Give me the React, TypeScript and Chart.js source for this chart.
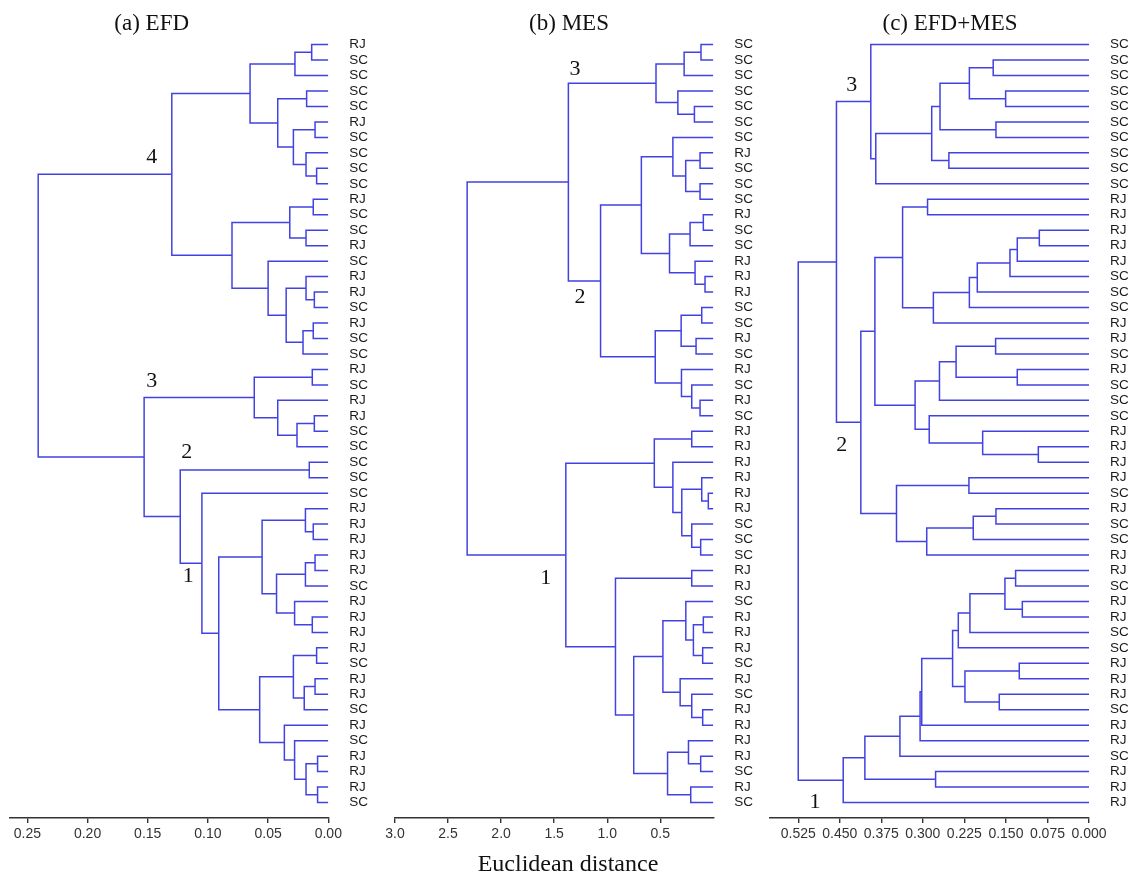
import React, { useEffect, useRef } from 'react';
import { Chart, registerables } from 'chart.js';

Chart.register(...registerables);

// ---------- Panel (a) EFD ----------
const labelsA = [
  'RJ', 'SC', 'SC', 'SC', 'SC', 'RJ', 'SC', 'SC', 'SC', 'SC',
  'RJ', 'SC', 'SC', 'RJ', 'SC', 'RJ', 'RJ', 'SC', 'RJ', 'SC',
  'SC', 'RJ', 'SC', 'RJ', 'RJ', 'SC', 'SC', 'SC', 'SC', 'SC',
  'RJ', 'RJ', 'RJ', 'RJ', 'RJ', 'SC', 'RJ', 'RJ', 'RJ', 'RJ',
  'SC', 'RJ', 'RJ', 'SC', 'RJ', 'SC', 'RJ', 'RJ', 'RJ', 'SC',
];
// merge: [first leaf, last leaf of left child, last leaf, height]
const mergesA: number[][] = [
  [1, 1, 2, 0.0138], [1, 2, 3, 0.0277], [4, 4, 5, 0.018], [6, 6, 7, 0.011],
  [9, 9, 10, 0.0097], [8, 8, 10, 0.0185], [6, 7, 10, 0.029], [4, 5, 10, 0.042],
  [1, 3, 10, 0.065], [11, 11, 12, 0.0125], [13, 13, 14, 0.0185], [11, 12, 14, 0.032],
  [17, 17, 18, 0.0116], [16, 16, 18, 0.0185], [19, 19, 20, 0.0125], [19, 20, 21, 0.021],
  [16, 18, 21, 0.035], [15, 15, 21, 0.05], [11, 14, 21, 0.08], [1, 10, 21, 0.13],
  [22, 22, 23, 0.0133], [25, 25, 26, 0.0116], [25, 26, 27, 0.026], [24, 24, 27, 0.042],
  [22, 23, 27, 0.0615], [28, 28, 29, 0.0158], [32, 32, 33, 0.0125], [31, 31, 33, 0.019],
  [34, 34, 35, 0.011], [34, 35, 36, 0.019], [38, 38, 39, 0.0133], [37, 37, 39, 0.028],
  [34, 36, 39, 0.043], [31, 33, 39, 0.055], [40, 40, 41, 0.0097], [42, 42, 43, 0.011],
  [42, 43, 44, 0.02], [40, 41, 44, 0.029], [47, 47, 48, 0.0089], [49, 49, 50, 0.0089],
  [47, 48, 50, 0.0185], [46, 46, 50, 0.028], [45, 45, 50, 0.0365], [40, 44, 50, 0.057],
  [31, 39, 50, 0.091], [30, 30, 50, 0.105], [28, 29, 50, 0.123], [22, 27, 50, 0.153],
  [1, 21, 50, 0.241],
];
const ticksA = [0.25, 0.2, 0.15, 0.1, 0.05, 0];
const clustersA: [string, number, number][] = [
  ['4', 0.1467, 8.27], ['3', 0.1467, 22.76], ['2', 0.1176, 27.33], ['1', 0.1163, 35.4],
];

// ---------- Panel (b) MES ----------
const labelsB = [
  'SC', 'SC', 'SC', 'SC', 'SC', 'SC', 'SC', 'RJ', 'SC', 'SC',
  'SC', 'RJ', 'SC', 'SC', 'RJ', 'RJ', 'RJ', 'SC', 'SC', 'RJ',
  'SC', 'RJ', 'SC', 'RJ', 'SC', 'RJ', 'RJ', 'RJ', 'RJ', 'RJ',
  'RJ', 'SC', 'SC', 'SC', 'RJ', 'RJ', 'SC', 'RJ', 'RJ', 'RJ',
  'SC', 'RJ', 'SC', 'RJ', 'RJ', 'RJ', 'RJ', 'SC', 'RJ', 'SC',
];
const mergesB: number[][] = [
  [1, 1, 2, 0.116], [1, 2, 3, 0.275], [5, 5, 6, 0.178], [4, 4, 6, 0.334],
  [1, 3, 6, 0.54], [8, 8, 9, 0.125], [10, 10, 11, 0.125], [8, 9, 11, 0.26],
  [7, 7, 11, 0.381], [12, 12, 13, 0.094], [12, 13, 14, 0.219], [16, 16, 17, 0.078],
  [15, 15, 17, 0.172], [12, 14, 17, 0.4125], [7, 11, 17, 0.678], [18, 18, 19, 0.109],
  [20, 20, 21, 0.1625], [18, 19, 21, 0.303], [24, 24, 25, 0.125], [23, 23, 25, 0.203],
  [22, 22, 25, 0.3], [18, 21, 25, 0.547], [7, 17, 25, 1.0625], [1, 6, 25, 1.366],
  [26, 26, 27, 0.203], [30, 30, 31, 0.047], [29, 29, 31, 0.109], [33, 33, 34, 0.119],
  [32, 32, 34, 0.203], [29, 31, 34, 0.297], [28, 28, 34, 0.381], [26, 27, 34, 0.556],
  [35, 35, 36, 0.203], [38, 38, 39, 0.094], [40, 40, 41, 0.1], [38, 39, 41, 0.1875],
  [37, 37, 41, 0.259], [44, 44, 45, 0.1], [43, 43, 45, 0.203], [42, 42, 45, 0.3125],
  [37, 41, 45, 0.475], [47, 47, 48, 0.119], [46, 46, 48, 0.234], [49, 49, 50, 0.2125],
  [46, 48, 50, 0.431], [37, 45, 50, 0.75], [35, 36, 50, 0.922], [26, 34, 50, 1.39],
  [1, 25, 50, 2.32],
];
const ticksB = [3.0, 2.5, 2.0, 1.5, 1.0, 0.5];
const clustersB: [string, number, number][] = [
  ['3', 1.3035, 2.62], ['2', 1.256, 17.31], ['1', 1.58, 35.49],
];

// ---------- Panel (c) EFD+MES ----------
const labelsC = [
  'SC', 'SC', 'SC', 'SC', 'SC', 'SC', 'SC', 'SC', 'SC', 'SC',
  'RJ', 'RJ', 'RJ', 'RJ', 'RJ', 'SC', 'SC', 'SC', 'RJ', 'RJ',
  'SC', 'RJ', 'SC', 'SC', 'SC', 'RJ', 'RJ', 'RJ', 'RJ', 'SC',
  'RJ', 'SC', 'SC', 'RJ', 'RJ', 'SC', 'RJ', 'RJ', 'SC', 'SC',
  'RJ', 'RJ', 'RJ', 'SC', 'RJ', 'RJ', 'SC', 'RJ', 'RJ', 'RJ',
];
const mergesC: number[][] = [
  [2, 2, 3, 0.173], [4, 4, 5, 0.1505], [2, 3, 5, 0.216], [6, 6, 7, 0.168],
  [2, 5, 7, 0.269], [8, 8, 9, 0.253], [2, 7, 9, 0.284], [2, 9, 10, 0.385],
  [1, 1, 10, 0.394], [11, 11, 12, 0.2915], [13, 13, 14, 0.0897], [13, 14, 15, 0.1295],
  [13, 15, 16, 0.1427], [13, 16, 17, 0.2017], [13, 17, 18, 0.216], [13, 18, 19, 0.281],
  [11, 12, 19, 0.3366], [20, 20, 21, 0.1686], [22, 22, 23, 0.1295], [20, 21, 23, 0.24],
  [20, 23, 24, 0.27], [27, 27, 28, 0.0915], [26, 26, 28, 0.192], [25, 25, 28, 0.2885],
  [20, 24, 28, 0.314], [11, 19, 28, 0.3866], [29, 29, 30, 0.2168], [31, 31, 32, 0.168],
  [31, 32, 33, 0.209], [31, 33, 34, 0.293], [29, 30, 34, 0.3476], [11, 28, 34, 0.412],
  [1, 10, 34, 0.456], [35, 35, 36, 0.1325], [37, 37, 38, 0.1204], [35, 36, 38, 0.1518],
  [35, 38, 39, 0.215], [35, 39, 40, 0.236], [41, 41, 42, 0.1259], [43, 43, 44, 0.162],
  [41, 42, 44, 0.224], [35, 40, 44, 0.2463], [35, 44, 45, 0.302], [35, 45, 46, 0.305],
  [35, 46, 47, 0.3414], [48, 48, 49, 0.277], [35, 47, 49, 0.4047], [35, 49, 50, 0.4438],
  [1, 34, 50, 0.525],
];
const ticksC = [0.525, 0.45, 0.375, 0.3, 0.225, 0.15, 0.075, 0];
const clustersC: [string, number, number][] = [
  ['3', 0.4286, 3.63], ['2', 0.4466, 26.9], ['1', 0.4949, 49.95],
];

const LINE = 'rgb(66,66,226)';
const SERIF = '"Liberation Serif", "Times New Roman", serif';
const SANS = '"Liberation Sans", Arial, sans-serif';

function buildSegments(merges: number[][], n: number) {
  const nodes = new Map<string, { h: number; y: number }>();
  for (let i = 1; i <= n; i++) nodes.set(i + '-' + i, { h: 0, y: i });
  const segs: { x: number; y: number }[][] = [];
  for (const [lo, split, hi, h] of merges) {
    const a = nodes.get(lo + '-' + split);
    const b = nodes.get(split + 1 + '-' + hi);
    if (!a || !b) throw new Error('bad merge ' + [lo, split, hi].join(','));
    segs.push([
      { x: a.h, y: a.y },
      { x: h, y: a.y },
      { x: h, y: b.y },
      { x: b.h, y: b.y },
    ]);
    nodes.set(lo + '-' + hi, { h, y: (a.y + b.y) / 2 });
  }
  return segs;
}

type Panel = {
  left: number;
  width: number;
  areaLeft: number;
  areaRight: number;
  labels: string[];
  merges: number[][];
  ticks: number[];
  decimals: number;
  max: number;
  clusters: [string, number, number][];
  title: string;
  titleX: number;
  xTitle?: string;
  xTitleX?: number;
};

const panels: Panel[] = [
  { left: 0, width: 380, areaLeft: 9.3, areaRight: 328.3, labels: labelsA, merges: mergesA, ticks: ticksA, decimals: 2, max: 0.265, clusters: clustersA, title: '(a) EFD', titleX: 151.7 },
  { left: 380, width: 380, areaLeft: 15, areaRight: 333.3, labels: labelsB, merges: mergesB, ticks: ticksB, decimals: 1, max: 3.0, clusters: clustersB, title: '(b) MES', titleX: 189, xTitle: 'Euclidean distance', xTitleX: 188 },
  { left: 760, width: 372, areaLeft: 10, areaRight: 329, labels: labelsC, merges: mergesC, ticks: ticksC, decimals: 3, max: 0.576, clusters: clustersC, title: '(c) EFD+MES', titleX: 190 },
];

const TOP = 28.8;
const BOTTOM = 818;
const H = 877;

function DendroPanel({ p }: { p: Panel }) {
  const ref = useRef<HTMLCanvasElement | null>(null);
  useEffect(() => {
    if (!ref.current) return;
    const n = p.labels.length;
    const segs = buildSegments(p.merges, n);
    const rows = p.labels.map((_, i) => i + 1);
    const textPlugin = {
      id: 'panelText' + p.left,
      afterDraw(chart: any) {
        const { ctx, scales } = chart;
        const xs = scales.x;
        const ys = scales.y;
        ctx.save();
        ctx.fillStyle = '#111';
        ctx.font = '23px ' + SERIF;
        ctx.textAlign = 'center';
        ctx.textBaseline = 'alphabetic';
        ctx.fillText(p.title, p.titleX, 30);
        ctx.textBaseline = 'middle';
        ctx.font = '22px ' + SERIF;
        for (const [t, d, r] of p.clusters) {
          ctx.fillText(t, xs.getPixelForValue(d), ys.getPixelForValue(r));
        }
        if (p.xTitle) {
          ctx.font = '24px ' + SERIF;
          ctx.textBaseline = 'alphabetic';
          ctx.fillText(p.xTitle, p.xTitleX, 871);
        }
        ctx.restore();
      },
    };
    const chart = new Chart(ref.current, {
      type: 'scatter',
      data: {
        datasets: segs.map((s) => ({
          data: s,
          showLine: true,
          borderColor: LINE,
          backgroundColor: LINE,
          borderWidth: 1.5,
          pointRadius: 0,
          pointHoverRadius: 0,
          tension: 0,
          fill: false,
        })),
      },
      options: {
        animation: false,
        responsive: false,
        maintainAspectRatio: false,
        events: [],
        layout: { padding: { left: p.areaLeft, top: TOP, right: 0, bottom: 0 } },
        plugins: { legend: { display: false }, tooltip: { enabled: false }, title: { display: false } },
        scales: {
          x: {
            type: 'linear',
            reverse: true,
            min: 0,
            max: p.max,
            afterFit: (s: any) => {
              s.height = H - BOTTOM;
            },
            afterBuildTicks: (s: any) => {
              s.ticks = p.ticks.map((v) => ({ value: v }));
            },
            grid: { display: true, drawOnChartArea: false, drawTicks: true, tickLength: 5, color: '#333', lineWidth: 1.4 },
            border: { display: true, color: '#333', width: 1.6 },
            ticks: {
              autoSkip: false,
              maxRotation: 0,
              padding: 3,
              color: '#333',
              font: { family: SANS, size: 14 },
              callback: (v: any) => Number(v).toFixed(p.decimals),
            },
          },
          y: {
            type: 'linear',
            position: 'right',
            reverse: true,
            min: 0,
            max: n + 1,
            afterFit: (s: any) => {
              s.width = p.width - p.areaRight;
            },
            afterBuildTicks: (s: any) => {
              s.ticks = rows.map((v) => ({ value: v }));
            },
            grid: { display: false, drawTicks: false },
            border: { display: false },
            ticks: {
              autoSkip: false,
              padding: 21,
              color: '#1a1a1a',
              font: { family: SANS, size: 13.5 },
              callback: (v: any) => p.labels[Math.round(Number(v)) - 1] ?? '',
            },
          },
        },
      },
      plugins: [textPlugin],
    } as any);
    return () => chart.destroy();
  }, [p]);
  return (
    <canvas
      ref={ref}
      width={p.width}
      height={H}
      style={{ position: 'absolute', left: p.left, top: 0, width: p.width, height: H }}
    />
  );
}

export default function App() {
  return (
    <div style={{ position: 'absolute', left: 0, top: 0, width: 1132, height: H, background: '#fff' }}>
      {panels.map((p) => (
        <DendroPanel key={p.left} p={p} />
      ))}
    </div>
  );
}
